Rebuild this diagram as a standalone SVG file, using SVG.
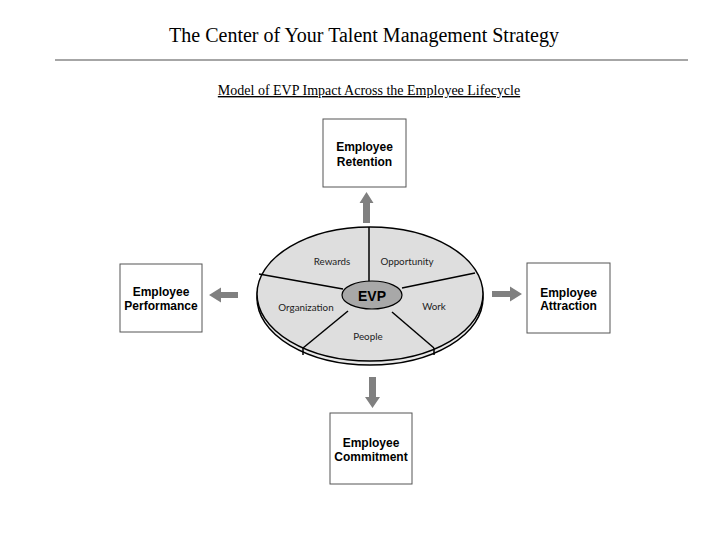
<svg xmlns="http://www.w3.org/2000/svg" width="720" height="540" viewBox="0 0 720 540">
<style>
.title{font-family:"Liberation Serif","Times New Roman",serif;fill:#000}
.box{fill:#fff;stroke:#555;stroke-width:1}
.bt{font-family:"Liberation Sans",Arial,sans-serif;font-weight:bold;font-size:12px;text-anchor:middle;fill:#000}
.wl{font-family:"Lato","Open Sans",sans-serif;font-size:9.8px;text-anchor:middle;fill:#222}
.div{stroke:#000;stroke-width:1.5;fill:none}
.arr{fill:#808080;stroke:none}
</style>
<rect width="720" height="540" fill="#fff"/>
<text class="title" x="364" y="42" font-size="20" text-anchor="middle">The Center of Your Talent Management Strategy</text>
<line x1="55" y1="60" x2="688" y2="60" stroke="#888" stroke-width="1.5"/>
<text class="title" x="369" y="95" font-size="14" text-anchor="middle" text-decoration="underline">Model of EVP Impact Across the Employee Lifecycle</text>

<g id="evp-wheel">
  <ellipse cx="370" cy="298" rx="113" ry="67" fill="#e8e8e8" stroke="#000" stroke-width="1.5"/>
  <ellipse cx="370" cy="294" rx="113" ry="67" fill="#dedede" stroke="#000" stroke-width="1.5"/>
  <line class="div" x1="303" y1="348" x2="303" y2="355"/>
  <line class="div" x1="434" y1="348" x2="434" y2="355"/>
  <line class="div" x1="369" y1="227" x2="369" y2="282"/>
  <line class="div" x1="402" y1="288" x2="475" y2="273"/>
  <line class="div" x1="343" y1="289" x2="259" y2="274"/>
  <line class="div" x1="348" y1="311" x2="303" y2="348"/>
  <line class="div" x1="392" y1="312" x2="434" y2="348"/>
  <text class="wl" x="332" y="265">Rewards</text>
  <text class="wl" x="407" y="265">Opportunity</text>
  <text class="wl" x="306" y="311">Organization</text>
  <text class="wl" x="434" y="310">Work</text>
  <text class="wl" x="368" y="340">People</text>
</g>
<g id="evp">
  <ellipse cx="372" cy="295" rx="30" ry="14" fill="#a8a8a8" stroke="#000" stroke-width="1.2"/>
  <text x="372" y="300.5" font-family="Liberation Sans,Arial,sans-serif" font-weight="bold" font-size="14" text-anchor="middle">EVP</text>
</g>

<g id="retention">
  <rect class="box" x="323" y="119" width="83" height="68"/>
  <text class="bt" x="364.5" y="151">Employee</text>
  <text class="bt" x="364.5" y="166">Retention</text>
</g>
<g id="performance">
  <rect class="box" x="120" y="264" width="82" height="68"/>
  <text class="bt" x="161" y="296">Employee</text>
  <text class="bt" x="161" y="310">Performance</text>
</g>
<g id="attraction">
  <rect class="box" x="527" y="263" width="83" height="70"/>
  <text class="bt" x="568.5" y="297">Employee</text>
  <text class="bt" x="568.5" y="310">Attraction</text>
</g>
<g id="commitment">
  <rect class="box" x="330" y="413" width="82" height="71"/>
  <text class="bt" x="371" y="447">Employee</text>
  <text class="bt" x="371" y="461">Commitment</text>
</g>

<g id="connectors">
  <polygon class="arr" points="363,223 363,203 359.5,203 366.5,192 373.5,203 370,203 370,223"/>
  <polygon class="arr" points="238,292 221,292 221,287.5 209,295 221,302.5 221,298 238,298"/>
  <polygon class="arr" points="492,291 510,291 510,286.5 522,294 510,301.5 510,297 492,297"/>
  <polygon class="arr" points="369,377 376,377 376,397 380,397 372.5,408 365,397 369,397"/>
</g>
</svg>
